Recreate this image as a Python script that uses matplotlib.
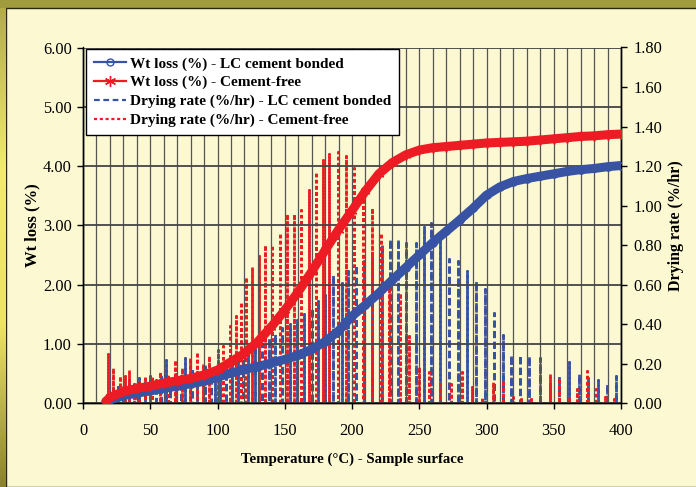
import numpy as np
import matplotlib
matplotlib.use("Agg")
import matplotlib.pyplot as plt
from matplotlib.lines import Line2D
from matplotlib.patches import Rectangle
from matplotlib.ticker import MultipleLocator, FormatStrFormatter

plt.rcParams['font.family'] = ['Liberation Serif', 'DejaVu Serif']

# Weight loss (%) against sample surface temperature (°C)
temp_wt = [17, 20, 30, 40, 50, 60, 70, 80, 90, 100, 110, 120, 130, 140, 150,
           160, 170, 180, 190, 200, 210, 220, 230, 240, 250, 260, 270, 280,
           290, 300, 310, 320, 330, 340, 350, 360, 370, 380, 390, 400]
wt_lc = [0.03, 0.06, 0.13, 0.17, 0.21, 0.25, 0.29, 0.33, 0.37, 0.44, 0.51,
         0.57, 0.62, 0.68, 0.74, 0.81, 0.91, 1.04, 1.22, 1.47, 1.66, 1.86,
         2.08, 2.29, 2.50, 2.71, 2.90, 3.09, 3.29, 3.51, 3.65, 3.74, 3.79,
         3.83, 3.87, 3.91, 3.94, 3.96, 3.99, 4.01]
wt_cf = [0.03, 0.10, 0.20, 0.25, 0.29, 0.34, 0.38, 0.42, 0.48, 0.56, 0.70,
         0.84, 1.04, 1.29, 1.57, 1.88, 2.22, 2.58, 2.93, 3.25, 3.58, 3.87,
         4.06, 4.19, 4.27, 4.31, 4.33, 4.35, 4.37, 4.39, 4.40, 4.41, 4.42,
         4.44, 4.46, 4.48, 4.50, 4.51, 4.53, 4.54]

# Drying rate (%/hr) peaks: temperature and peak rate
rate_lc_temp = [18, 22, 26, 30, 34, 38, 42, 46, 50, 54, 58, 61.5, 65, 69,
                72.5, 75.8, 80.8, 85, 90.7, 95, 98, 102, 106, 111, 115, 119,
                123, 128, 133, 138, 143, 148, 154, 159, 164, 170, 175, 180,
                186, 192.8, 197.2, 203, 209, 215, 222, 228, 234.4, 240.4,
                247.6, 253.5, 259, 265.2, 272.3, 279, 285.3, 292.5, 299,
                305.3, 312, 318.5, 324.7, 331.6, 339.8, 347, 354, 361, 369,
                375.7, 382.6, 389.6, 396.3]
rate_lc = [0.05, 0.08, 0.10, 0.09, 0.12, 0.10, 0.13, 0.11, 0.14, 0.12, 0.15,
           0.22, 0.13, 0.15, 0.14, 0.23, 0.18, 0.16, 0.20, 0.17, 0.18, 0.20,
           0.19, 0.22, 0.24, 0.23, 0.27, 0.29, 0.30, 0.33, 0.35, 0.38, 0.40,
           0.42, 0.45, 0.48, 0.52, 0.55, 0.65, 0.61, 0.67, 0.70, 0.72, 0.76,
           0.80, 0.83, 0.83, 0.81, 0.81, 0.89, 0.91, 0.84, 0.73, 0.72, 0.67,
           0.62, 0.58, 0.455, 0.345, 0.245, 0.245, 0.24, 0.23, 0.10, 0.14,
           0.21, 0.15, 0.13, 0.12, 0.10, 0.14]

rate_cf_temp = [18.8, 22.5, 27.5, 31, 34, 38.4, 42, 45.8, 51, 57, 63.4, 68.4,
                73.4, 79.6, 84.5, 89, 94, 100, 104.3, 109.3, 113.8, 117.5,
                121.2, 125.9, 130.9, 135.3, 140.8, 146.5, 151.9, 156.9, 161.9,
                168.1, 173.3, 178.2, 183.1, 189.4, 195.5, 201.7, 208.4, 214.9,
                221.6, 227.8, 235.7, 242.4, 249.8, 257.5, 265.4, 273.6, 281.5,
                289, 297, 304.6, 312, 319.5, 326, 333, 340, 347, 354, 361,
                367.5, 374.5, 381.4, 388, 395]
rate_cf = [0.25, 0.18, 0.14, 0.14, 0.17, 0.11, 0.12, 0.14, 0.14, 0.16, 0.15,
           0.22, 0.18, 0.23, 0.26, 0.20, 0.24, 0.27, 0.29, 0.39, 0.44, 0.51,
           0.64, 0.69, 0.745, 0.80, 0.80, 0.86, 0.96, 0.96, 0.98, 1.08, 1.17,
           1.23, 1.26, 1.27, 1.25, 1.19, 1.10, 0.99, 0.86, 0.62, 0.56, 0.34,
           0.185, 0.16, 0.10, 0.10, 0.16, 0.08, 0.03, 0.11, 0.12, 0.03, 0.02,
           0.02, 0.03, 0.15, 0.13, 0.03, 0.07, 0.165, 0.07, 0.03, 0.02]

BLUE = '#3953A4'
RED = '#ED1C24'


def spikes(temps, peaks):
    """Each reading rises from zero to its peak and drops back."""
    t = np.repeat(np.asarray(temps, float), 3)
    r = np.column_stack([np.zeros(len(peaks)), peaks,
                         np.zeros(len(peaks))]).ravel()
    return t, r


fig = plt.figure(figsize=(6.96, 4.87), dpi=100)
fig.patch.set_facecolor('#A09C3E')

# panel background with a yellow strip down the left edge
fig.patches.append(Rectangle((6 / 696, 0), 1, 1 - 8 / 487,
                             transform=fig.transFigure, facecolor='#FBF8D2',
                             edgecolor='#2A2A10', lw=1.0, zorder=-5))
strip = fig.add_axes([0, 0, 6 / 696, 1 - 8 / 487])
strip.set_zorder(-4)
grad = np.linspace(0, 1, 200).reshape(-1, 1)
cmap = matplotlib.colors.LinearSegmentedColormap.from_list(
    'edge', ['#B4AC4A', '#F2EC6A', '#EDE460', '#8A8230'])
strip.imshow(grad, aspect='auto', cmap=cmap, origin='upper')
strip.axis('off')

ax = fig.add_axes([83 / 696, 1 - 403.3 / 487, 538 / 696, 355.8 / 487])
ax2 = ax.twinx()
ax.set_zorder(ax2.get_zorder() + 1)
ax.patch.set_visible(False)
ax2.patch.set_facecolor('white')

# drying rate (right axis)
tl, rl = spikes(rate_lc_temp, rate_lc)
tc, rc = spikes(rate_cf_temp, rate_cf)
ax2.plot(tl, rl, color=BLUE, lw=2.0, dashes=(2.4, 1.4))
ax2.plot(tc, rc, color=RED, lw=2.0, dashes=(1.2, 1.0))

# weight loss (left axis)
ax.plot(temp_wt, wt_lc, color=BLUE, lw=6.5, solid_capstyle='round',
        marker='o', ms=5, mfc='none', mec=BLUE, mew=1.2, zorder=3)
ax.plot(temp_wt, wt_cf, color=RED, lw=6.5, solid_capstyle='round',
        marker=(6, 2, 0), ms=7, mec=RED, mew=1.2, zorder=4)

ax.set_xlim(0, 400)
ax.set_ylim(0, 6)
ax2.set_ylim(0, 1.8)
ax.xaxis.set_major_locator(MultipleLocator(50))
ax.xaxis.set_minor_locator(MultipleLocator(10))
ax.yaxis.set_major_locator(MultipleLocator(1))
ax2.yaxis.set_major_locator(MultipleLocator(0.2))
ax.yaxis.set_major_formatter(FormatStrFormatter('%.2f'))
ax2.yaxis.set_major_formatter(FormatStrFormatter('%.2f'))

ax.grid(axis='x', which='both', color='#555555', lw=0.9)
ax.grid(axis='y', which='major', color='#444444', lw=1.3)
ax.get_ygridlines()[-1].set_visible(False)
ax.tick_params(axis='x', which='minor', length=0)
ax.tick_params(axis='both', which='major', direction='out', length=4,
               width=1, labelsize=11.8, colors='black', pad=4)
ax2.tick_params(axis='y', direction='out', length=4, width=1,
                labelsize=11.8, pad=5)
ax.tick_params(axis='x', pad=10)

for a in (ax, ax2):
    a.spines['top'].set_visible(False)
    for s in ('left', 'right', 'bottom'):
        a.spines[s].set_color('black')
        a.spines[s].set_linewidth(1.0)

ax.set_ylabel('Wt loss (%)', fontsize=12, fontweight='bold', labelpad=2)
ax2.set_ylabel('Drying rate (%/hr)', fontsize=11.5, fontweight='bold',
               labelpad=4)
ax.set_xlabel('Temperature (\u00b0C) - Sample surface', fontsize=10.7,
              fontweight='bold', labelpad=10)

handles = [
    Line2D([], [], color=BLUE, lw=1.6, marker='o', ms=5, mfc='none',
           mec=BLUE),
    Line2D([], [], color=RED, lw=1.6, marker=(6, 2, 0), ms=8, mec=RED),
    Line2D([], [], color=BLUE, lw=1.6, dashes=(2.6, 1.6)),
    Line2D([], [], color=RED, lw=1.6, dashes=(1.4, 1.2)),
]
labels = ['Wt loss (%) - LC cement bonded', 'Wt loss (%) - Cement-free',
          'Drying rate (%/hr) - LC cement bonded',
          'Drying rate (%/hr) - Cement-free']
leg = fig.legend(handles, labels, loc='upper left',
                 bbox_to_anchor=(86 / 696, 1 - 49 / 487),
                 prop={'weight': 'bold', 'size': 11.0}, frameon=True,
                 fancybox=False, edgecolor='black', framealpha=1,
                 handlelength=2.1, handletextpad=0.3, labelspacing=0.33,
                 borderpad=0.5, borderaxespad=0)
leg.get_frame().set_linewidth(1.0)
leg.set_zorder(10)

fig.savefig('out.png', dpi=100, facecolor=fig.get_facecolor())
